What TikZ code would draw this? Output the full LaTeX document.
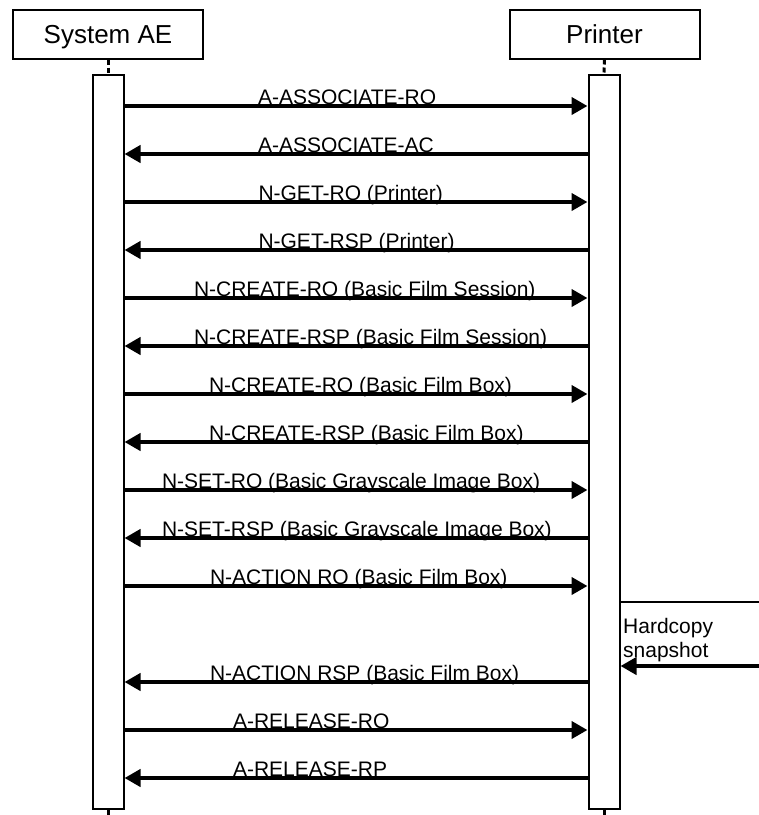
\documentclass[tikz,border=0pt]{standalone}
\usepackage{fontspec}
\setmainfont{Liberation Sans}
\usetikzlibrary{arrows.meta}

\begin{document}
\begin{tikzpicture}[x=1pt,y=-1pt,
	actorbox/.style={draw,line width=2pt,minimum width=190pt,minimum height=49pt,inner sep=0pt,text depth=0pt,font=\fontsize{26}{30}\selectfont},
	lifebar/.style={draw,line width=2pt,minimum width=31pt,minimum height=734pt,inner sep=0pt},
	lifeline/.style={line width=3pt,dash pattern=on 5pt off 3pt},
	msg/.style={line width=4pt,-{Triangle[length=16pt,width=17pt]}},
	msglbl/.style={anchor=base west,inner sep=0pt,font=\fontsize{21}{24}\selectfont}]
				\useasboundingbox (0,0) rectangle (759,815);
				% the two partners
				\node[actorbox] (sys) at (108,34) {System AE};
				\node[actorbox] (prn) at (604.5,34) {Printer};
				\node[lifebar] (sysbar) at (108,441.5) {};
				\node[lifebar] (prnbar) at (604,441.5) {};
				\coordinate (sysfoot) at (108,815);
				\coordinate (prnfoot) at (604,815);
				\draw[lifeline] (sys.south) -- (sysbar.north);
				\draw[lifeline] (prn.south) -- (prnbar.north);
				\draw[lifeline] (sysbar.south) -- (sysfoot);
				\draw[lifeline] (prnbar.south) -- (prnfoot);
				% association
				\draw[msg] (sysbar.east |- 0,106) -- (prnbar.west |- 0,106) node[msglbl] (m1) at (256,104) {A-ASSOCIATE-RQ};
				\draw[msg] (prnbar.west |- 0,154) -- (sysbar.east |- 0,154) node[msglbl] (m2) at (256,152) {A-ASSOCIATE-AC};
				\draw[msg] (sysbar.east |- 0,202) -- (prnbar.west |- 0,202) node[msglbl] (m3) at (256.5,200) {N-GET-RQ (Printer)};
				\draw[msg] (prnbar.west |- 0,250) -- (sysbar.east |- 0,250) node[msglbl] (m4) at (256.5,248) {N-GET-RSP (Printer)};
				% film session and film box
				\draw[msg] (sysbar.east |- 0,298) -- (prnbar.west |- 0,298) node[msglbl] (m5) at (192,296) {N-CREATE-RQ (Basic Film Session)};
				\draw[msg] (prnbar.west |- 0,346) -- (sysbar.east |- 0,346) node[msglbl] (m6) at (192,344) {N-CREATE-RSP (Basic Film Session)};
				\draw[msg] (sysbar.east |- 0,394) -- (prnbar.west |- 0,394) node[msglbl] (m7) at (207,392) {N-CREATE-RQ (Basic Film Box)};
				\draw[msg] (prnbar.west |- 0,442) -- (sysbar.east |- 0,442) node[msglbl] (m8) at (207,440) {N-CREATE-RSP (Basic Film Box)};
				% image box
				\draw[msg] (sysbar.east |- 0,490) -- (prnbar.west |- 0,490) node[msglbl] (m9) at (160,488) {N-SET-RQ (Basic Grayscale Image Box)};
				\draw[msg] (prnbar.west |- 0,538) -- (sysbar.east |- 0,538) node[msglbl] (m10) at (160,536) {N-SET-RSP (Basic Grayscale Image Box)};
				% print
				\draw[msg] (sysbar.east |- 0,586) -- (prnbar.west |- 0,586) node[msglbl] (m11) at (208,584) {N-ACTION RQ (Basic Film Box)};
				\coordinate (hcin) at (759,602);
				\coordinate (hcout) at (759,666);
				\draw[line width=2pt] (prnbar.east |- hcin) -- (hcin);
				\draw[msg] (hcout) -- (prnbar.east |- hcout);
				\node[anchor=north west,inner sep=0pt,align=left,font=\fontsize{21}{24}\selectfont] (hc) at (623,618) {Hardcopy\\snapshot};
				\draw[msg] (prnbar.west |- 0,682) -- (sysbar.east |- 0,682) node[msglbl] (m12) at (208,680) {N-ACTION RSP (Basic Film Box)};
				% release
				\draw[msg] (sysbar.east |- 0,730) -- (prnbar.west |- 0,730) node[msglbl] (m13) at (231,728) {A-RELEASE-RQ};
				\draw[msg] (prnbar.west |- 0,778) -- (sysbar.east |- 0,778) node[msglbl] (m14) at (231,776) {A-RELEASE-RP};
\end{tikzpicture}
\end{document}
